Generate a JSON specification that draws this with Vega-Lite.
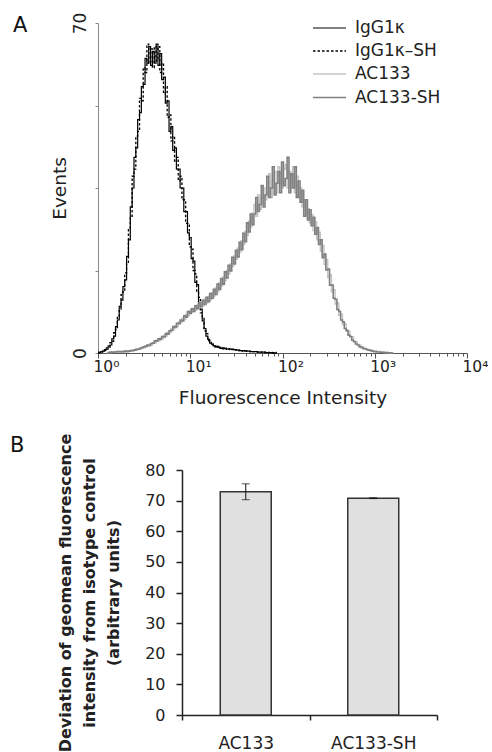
{
  "$schema": "https://vega.github.io/schema/vega-lite/v6.json",
  "background": "white",
  "padding": {"left": 10, "top": 12, "right": 0, "bottom": 0},
  "bounds": "flush",
  "spacing": 117,
  "config": {
    "font": "DejaVu Sans",
    "view": {"stroke": null},
    "axis": {"labelFont": "DejaVu Sans", "titleFont": "DejaVu Sans", "labelColor": "#222", "titleColor": "#222", "titleFontWeight": "normal", "grid": false},
    "title": {"font": "DejaVu Sans", "fontWeight": "normal", "color": "#111", "fontSize": 21}
  },
  "vconcat": [
    {
      "width": 369,
      "height": 330,
      "title": {"text": "A", "anchor": "start", "frame": "group", "dx": -85, "dy": 28},
      "data": {"values": [
        {"x": 1, "a": 0, "b": 0.2},
        {"x": 1.047, "a": 0.1, "b": 0.1},
        {"x": 1.096, "a": 0.3, "b": 0.2},
        {"x": 1.148, "a": 0.4, "b": 0.6},
        {"x": 1.202, "a": 0.7, "b": 0.5},
        {"x": 1.259, "a": 0.8, "b": 1.1, "c": 0, "d": 0},
        {"x": 1.318, "a": 1.5, "b": 1.2, "c": 0.1, "d": 0.1},
        {"x": 1.38, "a": 1.7, "b": 2.2, "c": 0.1, "d": 0.2},
        {"x": 1.445, "a": 3.0, "b": 2.5, "c": 0.2, "d": 0.1},
        {"x": 1.514, "a": 3.6, "b": 4.3, "c": 0.2, "d": 0.2},
        {"x": 1.585, "a": 5.6, "b": 5.0, "c": 0.3, "d": 0.2},
        {"x": 1.66, "a": 7.0, "b": 7.8, "c": 0.2, "d": 0.3},
        {"x": 1.738, "a": 9.9, "b": 9.0, "c": 0.3, "d": 0.3},
        {"x": 1.82, "a": 11.2, "b": 12.4, "c": 0.3, "d": 0.2},
        {"x": 1.905, "a": 14.1, "b": 13.0, "c": 0.4, "d": 0.3},
        {"x": 1.995, "a": 15.5, "b": 17.0, "c": 0.3, "d": 0.4},
        {"x": 2.089, "a": 20.5, "b": 19.0, "c": 0.4, "d": 0.3},
        {"x": 2.188, "a": 24.0, "b": 26.5, "c": 0.5, "d": 0.4},
        {"x": 2.291, "a": 31.0, "b": 29.0, "c": 0.4, "d": 0.5},
        {"x": 2.399, "a": 35.0, "b": 37.5, "c": 0.6, "d": 0.5},
        {"x": 2.512, "a": 41.5, "b": 39.0, "c": 0.7, "d": 0.6},
        {"x": 2.63, "a": 43.5, "b": 46.0, "c": 0.6, "d": 0.8},
        {"x": 2.754, "a": 49.5, "b": 47.0, "c": 0.9, "d": 0.8},
        {"x": 2.884, "a": 51.0, "b": 54.0, "c": 0.8, "d": 1.0},
        {"x": 3.02, "a": 56.5, "b": 53.5, "c": 1.2, "d": 1.1},
        {"x": 3.162, "a": 57.0, "b": 60.5, "c": 1.1, "d": 1.3},
        {"x": 3.311, "a": 62.5, "b": 59.5, "c": 1.5, "d": 1.4},
        {"x": 3.467, "a": 61.5, "b": 65.5, "c": 1.4, "d": 1.7},
        {"x": 3.631, "a": 65.0, "b": 61.5, "c": 1.8, "d": 1.6},
        {"x": 3.802, "a": 61.0, "b": 64.5, "c": 1.7, "d": 2.0},
        {"x": 3.981, "a": 64.0, "b": 60.5, "c": 2.2, "d": 2.1},
        {"x": 4.169, "a": 61.5, "b": 65.0, "c": 2.1, "d": 2.6},
        {"x": 4.365, "a": 65.5, "b": 62.0, "c": 2.7, "d": 2.5},
        {"x": 4.571, "a": 61.0, "b": 65.0, "c": 2.6, "d": 3.0},
        {"x": 4.786, "a": 63.5, "b": 59.5, "c": 3.2, "d": 2.9},
        {"x": 5.012, "a": 58.0, "b": 61.5, "c": 3.0, "d": 3.5},
        {"x": 5.248, "a": 58.5, "b": 55.0, "c": 3.7, "d": 3.4},
        {"x": 5.495, "a": 53.0, "b": 56.5, "c": 3.6, "d": 4.1},
        {"x": 5.754, "a": 53.5, "b": 50.0, "c": 4.4, "d": 4.0},
        {"x": 6.026, "a": 47.0, "b": 50.5, "c": 4.3, "d": 4.7},
        {"x": 6.31, "a": 48.0, "b": 45.0, "c": 5.1, "d": 4.8},
        {"x": 6.607, "a": 43.0, "b": 46.0, "c": 5.0, "d": 5.6},
        {"x": 6.918, "a": 43.5, "b": 40.5, "c": 5.8, "d": 5.4},
        {"x": 7.244, "a": 39.0, "b": 41.5, "c": 5.6, "d": 6.3},
        {"x": 7.586, "a": 39.0, "b": 36.5, "c": 6.6, "d": 6.2},
        {"x": 7.943, "a": 35.0, "b": 37.5, "c": 6.4, "d": 7.0},
        {"x": 8.318, "a": 35.0, "b": 32.5, "c": 7.4, "d": 6.8},
        {"x": 8.71, "a": 30.0, "b": 32.5, "c": 7.1, "d": 7.9},
        {"x": 9.12, "a": 30.0, "b": 27.5, "c": 8.2, "d": 7.6},
        {"x": 9.55, "a": 25.5, "b": 27.5, "c": 7.9, "d": 8.8},
        {"x": 10, "a": 24.5, "b": 22.5, "c": 8.9, "d": 8.4},
        {"x": 10.47, "a": 20.0, "b": 22.0, "c": 8.6, "d": 9.4},
        {"x": 10.96, "a": 19.5, "b": 17.5, "c": 9.5, "d": 8.8},
        {"x": 11.48, "a": 15.0, "b": 16.8, "c": 9.1, "d": 10.0},
        {"x": 12.02, "a": 14.5, "b": 13.0, "c": 10.2, "d": 9.4},
        {"x": 12.59, "a": 10.5, "b": 11.8, "c": 9.6, "d": 10.6},
        {"x": 13.18, "a": 9.3, "b": 8.5, "c": 10.8, "d": 9.8},
        {"x": 13.8, "a": 6.8, "b": 7.5, "c": 10.0, "d": 11.2},
        {"x": 14.45, "a": 5.2, "b": 4.7, "c": 11.4, "d": 10.3},
        {"x": 15.14, "a": 3.6, "b": 4.1, "c": 10.6, "d": 11.8},
        {"x": 15.85, "a": 2.9, "b": 2.6, "c": 12.0, "d": 10.9},
        {"x": 16.6, "a": 2.1, "b": 2.4, "c": 11.3, "d": 12.6},
        {"x": 17.38, "a": 1.9, "b": 1.6, "c": 12.8, "d": 11.6},
        {"x": 18.2, "a": 1.5, "b": 1.8, "c": 12.1, "d": 13.5},
        {"x": 19.05, "a": 1.4, "b": 1.2, "c": 13.8, "d": 12.4},
        {"x": 19.95, "a": 1.2, "b": 1.4, "c": 13.0, "d": 14.6},
        {"x": 20.89, "a": 1.2, "b": 1.0, "c": 14.9, "d": 13.5},
        {"x": 21.88, "a": 1.0, "b": 1.2, "c": 14.2, "d": 15.8},
        {"x": 22.91, "a": 1.1, "b": 0.9, "c": 16.1, "d": 14.6},
        {"x": 23.99, "a": 0.9, "b": 1.0, "c": 15.4, "d": 17.2},
        {"x": 25.12, "a": 0.9, "b": 0.8, "c": 17.5, "d": 15.9},
        {"x": 26.3, "a": 0.8, "b": 0.9, "c": 16.8, "d": 18.6},
        {"x": 27.54, "a": 0.8, "b": 0.7, "c": 18.9, "d": 17.4},
        {"x": 28.84, "a": 0.7, "b": 0.8, "c": 18.4, "d": 20.3},
        {"x": 30.2, "a": 0.7, "b": 0.6, "c": 20.6, "d": 18.9},
        {"x": 31.62, "a": 0.6, "b": 0.7, "c": 19.9, "d": 21.8},
        {"x": 33.11, "a": 0.6, "b": 0.5, "c": 22.2, "d": 20.4},
        {"x": 34.67, "a": 0.5, "b": 0.6, "c": 21.4, "d": 23.5},
        {"x": 36.31, "a": 0.5, "b": 0.4, "c": 23.8, "d": 21.9},
        {"x": 38.02, "a": 0.5, "b": 0.5, "c": 23.0, "d": 25.4},
        {"x": 39.81, "a": 0.4, "b": 0.5, "c": 25.8, "d": 23.6},
        {"x": 41.69, "a": 0.4, "b": 0.4, "c": 24.9, "d": 27.6},
        {"x": 43.65, "a": 0.4, "b": 0.3, "c": 28.0, "d": 25.7},
        {"x": 45.71, "a": 0.3, "b": 0.4, "c": 26.8, "d": 29.5},
        {"x": 47.86, "a": 0.3, "b": 0.3, "c": 29.7, "d": 27.2},
        {"x": 50.12, "a": 0.3, "b": 0.3, "c": 31.5, "d": 29.5},
        {"x": 52.48, "a": 0.3, "b": 0.2, "c": 29.0, "d": 33.0},
        {"x": 54.95, "a": 0.2, "b": 0.3, "c": 33.5, "d": 30.0},
        {"x": 57.54, "a": 0.2, "b": 0.2, "c": 30.5, "d": 31.5},
        {"x": 60.26, "a": 0.2, "b": 0.2, "c": 33.0, "d": 35.5},
        {"x": 63.1, "a": 0.2, "b": 0.1, "c": 35.0, "d": 31.0},
        {"x": 66.07, "a": 0.1, "b": 0.2, "c": 32.5, "d": 33.5},
        {"x": 69.18, "a": 0.1, "b": 0.1, "c": 34.0, "d": 37.5},
        {"x": 72.44, "a": 0.1, "b": 0.1, "c": 38.0, "d": 33.0},
        {"x": 75.86, "a": 0.1, "b": 0.1, "c": 33.0, "d": 35.0},
        {"x": 79.43, "a": 0.1, "b": 0, "c": 36.5, "d": 39.5},
        {"x": 83.18, "a": 0, "b": 0.1, "c": 38.5, "d": 33.5},
        {"x": 87.1, "a": 0, "b": 0, "c": 34.0, "d": 36.0},
        {"x": 91.2, "c": 39.5, "d": 38.5},
        {"x": 95.5, "c": 36.0, "d": 34.0},
        {"x": 100, "c": 35.0, "d": 40.5},
        {"x": 104.7, "c": 39.0, "d": 35.5},
        {"x": 109.6, "c": 40.0, "d": 37.0},
        {"x": 114.8, "c": 35.0, "d": 41.5},
        {"x": 120.2, "c": 38.5, "d": 34.0},
        {"x": 125.9, "c": 36.0, "d": 38.0},
        {"x": 131.8, "c": 39.5, "d": 35.0},
        {"x": 138.0, "c": 34.0, "d": 39.5},
        {"x": 144.5, "c": 37.5, "d": 33.0},
        {"x": 151.4, "c": 33.0, "d": 36.5},
        {"x": 158.5, "c": 35.0, "d": 32.0},
        {"x": 166.0, "c": 31.0, "d": 34.5},
        {"x": 173.8, "c": 32.5, "d": 29.0},
        {"x": 182.0, "c": 29.5, "d": 32.5},
        {"x": 190.5, "c": 30.6, "d": 28.2},
        {"x": 199.5, "c": 27.6, "d": 30.4},
        {"x": 208.9, "c": 29.4, "d": 27.0},
        {"x": 218.8, "c": 26.0, "d": 28.8},
        {"x": 229.1, "c": 27.8, "d": 25.2},
        {"x": 239.9, "c": 24.0, "d": 26.6},
        {"x": 251.2, "c": 25.6, "d": 23.0},
        {"x": 263.0, "c": 21.6, "d": 24.0},
        {"x": 275.4, "c": 22.8, "d": 20.2},
        {"x": 288.4, "c": 18.8, "d": 21.0},
        {"x": 302.0, "c": 19.8, "d": 17.6},
        {"x": 316.2, "c": 16.0, "d": 17.8},
        {"x": 331.1, "c": 16.6, "d": 14.4},
        {"x": 346.7, "c": 13.0, "d": 14.4},
        {"x": 363.1, "c": 13.4, "d": 11.6},
        {"x": 380.2, "c": 10.4, "d": 11.4},
        {"x": 398.1, "c": 10.6, "d": 9.2},
        {"x": 416.9, "c": 8.0, "d": 8.8},
        {"x": 436.5, "c": 8.2, "d": 7.0},
        {"x": 457.1, "c": 6.0, "d": 6.6},
        {"x": 478.6, "c": 6.2, "d": 5.2},
        {"x": 501.2, "c": 4.6, "d": 4.8},
        {"x": 524.8, "c": 4.6, "d": 3.8},
        {"x": 549.5, "c": 3.4, "d": 3.5},
        {"x": 575.4, "c": 3.4, "d": 2.7},
        {"x": 602.6, "c": 2.5, "d": 2.4},
        {"x": 631.0, "c": 2.4, "d": 1.9},
        {"x": 660.7, "c": 1.8, "d": 1.7},
        {"x": 691.8, "c": 1.7, "d": 1.3},
        {"x": 724.4, "c": 1.3, "d": 1.2},
        {"x": 758.6, "c": 1.2, "d": 0.9},
        {"x": 794.3, "c": 0.9, "d": 0.9},
        {"x": 831.8, "c": 0.8, "d": 0.7},
        {"x": 871.0, "c": 0.6, "d": 0.6},
        {"x": 912.0, "c": 0.6, "d": 0.5},
        {"x": 955.0, "c": 0.4, "d": 0.4},
        {"x": 1000, "c": 0.4, "d": 0.3},
        {"x": 1096, "c": 0.3, "d": 0.2},
        {"x": 1202, "c": 0.2, "d": 0.15},
        {"x": 1318, "c": 0.1, "d": 0.1},
        {"x": 1445, "c": 0.05, "d": 0.05},
        {"x": 1585, "c": 0, "d": 0}
      ]},
      "transform": [
        {"fold": ["a", "b", "c", "d"], "as": ["series", "events"]},
        {"filter": "isValid(datum.events)"}
      ],
      "mark": {"type": "line", "interpolate": "step"},
      "encoding": {
        "x": {
          "field": "x", "type": "quantitative",
          "scale": {"type": "log", "domain": [1, 10000]},
          "axis": {
            "values": [1, 2, 3, 4, 5, 6, 7, 8, 9, 10, 20, 30, 40, 50, 60, 70, 80, 90, 100, 200, 300, 400, 500, 600, 700, 800, 900, 1000, 2000, 3000, 4000, 5000, 6000, 7000, 8000, 9000, 10000],
            "labelExpr": "datum.value == 1 ? '10⁰' : datum.value == 10 ? '10¹' : datum.value == 100 ? '10²' : datum.value == 1000 ? '10³' : datum.value == 10000 ? '10⁴' : ''",
            "labelFlush": false,
            "labelOverlap": false,
            "labelAlign": "left",
            "labelOffset": -5,
            "labelFontSize": 15.5,
            "labelPadding": 1,
            "tickSize": {"condition": {"test": "datum.value == 1 || datum.value == 10 || datum.value == 100 || datum.value == 1000 || datum.value == 10000", "value": 5}, "value": 3},
            "domainColor": "#555",
            "tickColor": "#555",
            "title": "Fluorescence Intensity",
            "titleFontSize": 18.5,
            "titlePadding": 14
          }
        },
        "y": {
          "field": "events", "type": "quantitative",
          "scale": {"domain": [0, 70]},
          "axis": {
            "values": [0, 17.5, 35, 52.5, 70],
            "labelExpr": "datum.value == 0 || datum.value == 70 ? datum.label : ''",
            "labelAngle": -90,
            "labelFontSize": 17,
            "labelPadding": 6,
            "tickSize": 3,
            "domainColor": "#888",
            "tickColor": "#888",
            "title": "Events",
            "titleFontSize": 18.5,
            "titlePadding": 2
          }
        },
        "color": {
          "field": "series", "type": "nominal",
          "scale": {"domain": ["a", "b", "c", "d"], "range": ["#000000", "#000000", "#c4c4c4", "#808080"]},
          "legend": {
            "orient": "none", "legendX": 222, "legendY": -4, "title": null,
            "symbolType": "M-2,0H2", "symbolSize": 272, "symbolStrokeWidth": 3,
            "labelFontSize": 17, "labelColor": "#222", "labelOffset": 16, "rowPadding": 6, "padding": 0,
            "labelExpr": "datum.label == 'a' ? 'IgG1κ' : datum.label == 'b' ? 'IgG1κ–SH' : datum.label == 'c' ? 'AC133' : 'AC133-SH'"
          }
        },
        "strokeDash": {
          "field": "series", "type": "nominal",
          "scale": {"domain": ["a", "b", "c", "d"], "range": [[1, 0], [2.5, 2], [1, 0], [1, 0]]},
          "legend": {
            "orient": "none", "legendX": 222, "legendY": -4, "title": null,
            "symbolType": "M-2,0H2", "symbolSize": 272, "symbolStrokeWidth": 3,
            "labelFontSize": 17, "labelColor": "#222", "labelOffset": 16, "rowPadding": 6, "padding": 0,
            "labelExpr": "datum.label == 'a' ? 'IgG1κ' : datum.label == 'b' ? 'IgG1κ–SH' : datum.label == 'c' ? 'AC133' : 'AC133-SH'"
          }
        },
        "strokeWidth": {
          "field": "series", "type": "nominal",
          "scale": {"domain": ["a", "b", "c", "d"], "range": [1.2, 1.6, 2.4, 2.4]},
          "legend": null
        }
      }
    },
    {
      "bounds": "flush",
      "spacing": 0,
      "hconcat": [
        {
          "width": 84,
          "height": 1,
          "data": {"values": []},
          "mark": {"type": "point", "opacity": 0}
        },
        {
          "width": 255,
          "height": 245,
          "title": {"text": "B", "anchor": "start", "frame": "group", "dx": -172, "dy": 27},
          "data": {"values": [
            {"condition": "AC133", "value": 72.9, "error": 2.6},
            {"condition": "AC133-SH", "value": 70.8, "error": 0.15}
          ]},
          "encoding": {
            "x": {
              "field": "condition", "type": "nominal",
              "scale": {"paddingInner": 0, "paddingOuter": 0},
              "axis": {
                "title": null, "labelAngle": 0, "labelFontSize": 17, "labelPadding": 15,
                "tickSize": 5, "tickBand": "extent", "domainColor": "#222", "tickColor": "#222",
                "domainWidth": 1.5, "tickWidth": 1.5
              }
            },
            "y": {
              "field": "value", "type": "quantitative",
              "scale": {"domain": [0, 80]},
              "axis": {
                "values": [0, 10, 20, 30, 40, 50, 60, 70, 80],
                "labelFontSize": 16, "labelPadding": 11, "tickSize": 6,
                "domainColor": "#222", "tickColor": "#222", "domainWidth": 1.5, "tickWidth": 1.5,
                "title": ["Deviation of geomean fluorescence", "intensity from isotype control", "(arbitrary units)"],
                "titleFontSize": 16, "titleFontWeight": "bold", "titleLineHeight": 24, "titlePadding": 23
              }
            }
          },
          "layer": [
            {"mark": {"type": "bar", "fill": "#e0e0e0", "stroke": "#333333", "strokeWidth": 1.5, "width": {"band": 0.4}}},
            {
              "mark": {"type": "errorbar", "color": "#111111", "ticks": {"size": 8}},
              "encoding": {"yError": {"field": "error"}}
            }
          ]
        }
      ]
    }
  ]
}
